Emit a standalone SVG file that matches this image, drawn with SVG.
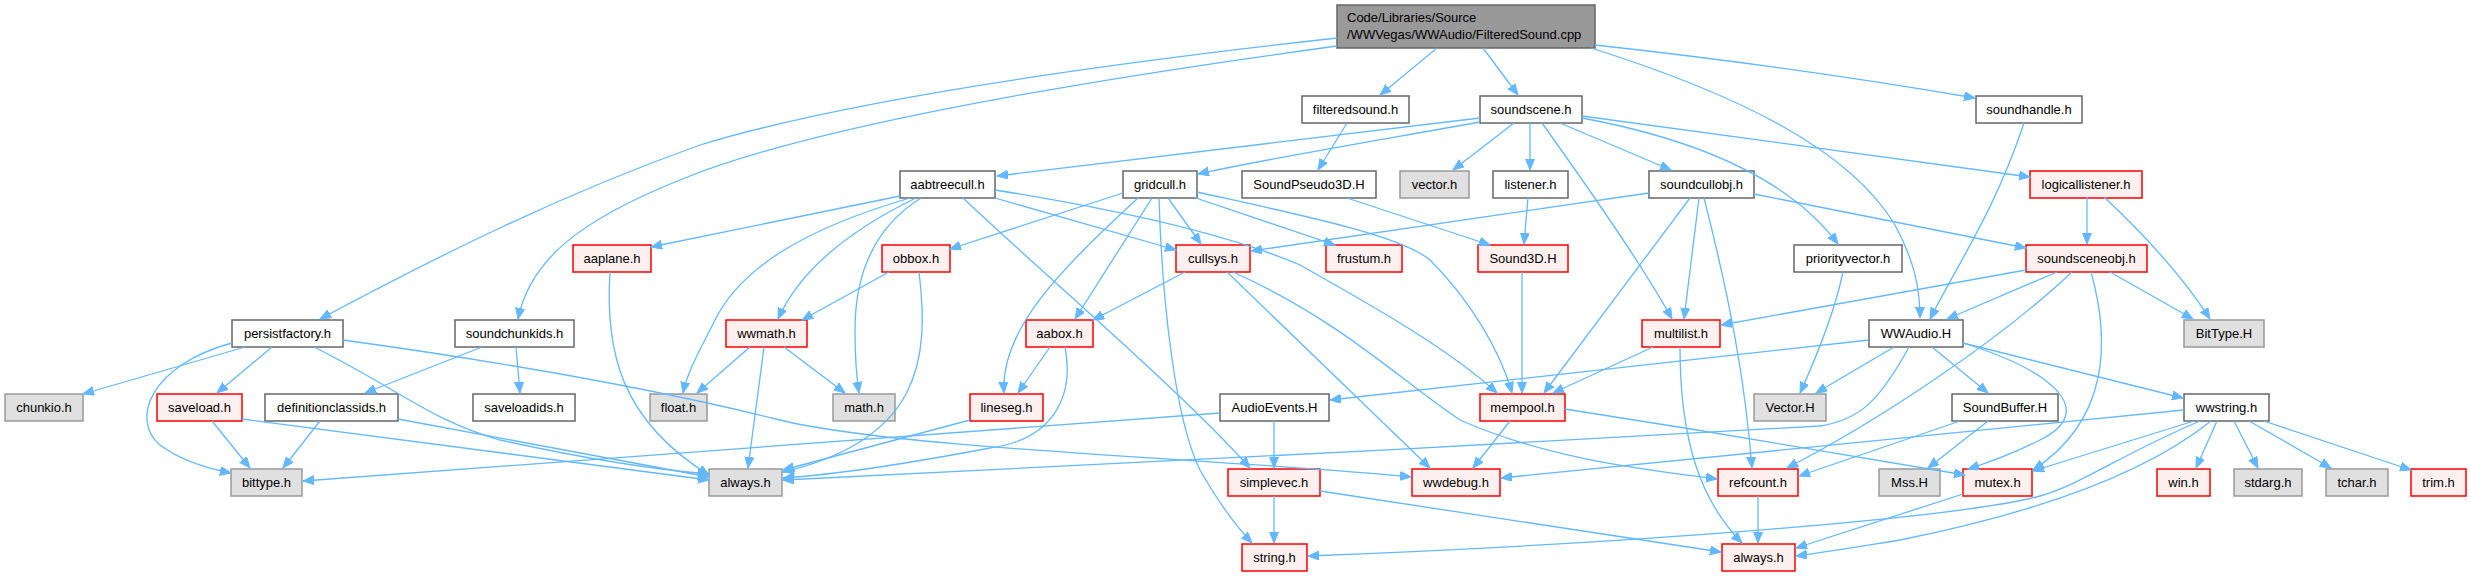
<svg xmlns="http://www.w3.org/2000/svg" width="2471" height="576" viewBox="0 0 2471 576">
<style>
.n rect{stroke-width:1.5}
.w rect{fill:#ffffff;stroke:#666666}
.g rect{fill:#e0e0e0;stroke:#999999}
.r rect{fill:#fff0f0;stroke:#ff0000}
.t rect{fill:#999999;stroke:#666666}
.n text{font-family:"Liberation Sans",Arial,sans-serif;font-size:13px;fill:#000000;text-anchor:middle}
.t text{text-anchor:start}
#edges path{fill:none;stroke:#63b8ff;stroke-width:1.3;marker-end:url(#ah)}
</style>
<defs>
<marker id="ah" markerUnits="userSpaceOnUse" markerWidth="12" markerHeight="10" refX="11" refY="4.5" orient="auto">
<path d="M0,0 L11,4.5 L0,9 z" fill="#63b8ff" stroke="#63b8ff" stroke-width="1"/>
</marker>
</defs>
<rect x="0" y="0" width="2471" height="576" fill="#ffffff"/>
<g id="nodes">
<g id="n_top" class="n t"><rect x="1337" y="5" width="258" height="43"/><text x="1347" y="22">Code/Libraries/Source</text><text x="1347" y="39">/WWVegas/WWAudio/FilteredSound.cpp</text></g>
<g id="n_filteredsound" class="n w"><rect x="1302" y="96" width="107" height="27"/><text x="1355.5" y="114">filteredsound.h</text></g>
<g id="n_soundscene" class="n w"><rect x="1480" y="96" width="102" height="27"/><text x="1531" y="114">soundscene.h</text></g>
<g id="n_soundhandle" class="n w"><rect x="1976" y="96" width="106" height="27"/><text x="2029" y="114">soundhandle.h</text></g>
<g id="n_aabtreecull" class="n w"><rect x="900" y="171" width="95" height="27"/><text x="947.5" y="189">aabtreecull.h</text></g>
<g id="n_gridcull" class="n w"><rect x="1123" y="171" width="74" height="27"/><text x="1160" y="189">gridcull.h</text></g>
<g id="n_soundpseudo3d" class="n w"><rect x="1242" y="171" width="134" height="27"/><text x="1309" y="189">SoundPseudo3D.H</text></g>
<g id="n_vector" class="n g"><rect x="1400" y="171" width="69" height="27"/><text x="1434.5" y="189">vector.h</text></g>
<g id="n_listener" class="n w"><rect x="1493" y="171" width="75" height="27"/><text x="1530.5" y="189">listener.h</text></g>
<g id="n_soundcullobj" class="n w"><rect x="1649" y="171" width="105" height="27"/><text x="1701.5" y="189">soundcullobj.h</text></g>
<g id="n_logicallistener" class="n r"><rect x="2030" y="171" width="112" height="27"/><text x="2086" y="189">logicallistener.h</text></g>
<g id="n_aaplane" class="n r"><rect x="573" y="245" width="78" height="27"/><text x="612" y="263">aaplane.h</text></g>
<g id="n_obbox" class="n r"><rect x="882" y="245" width="68" height="27"/><text x="916" y="263">obbox.h</text></g>
<g id="n_cullsys" class="n r"><rect x="1176" y="245" width="74" height="27"/><text x="1213" y="263">cullsys.h</text></g>
<g id="n_frustum" class="n r"><rect x="1326" y="245" width="76" height="27"/><text x="1364" y="263">frustum.h</text></g>
<g id="n_sound3d" class="n r"><rect x="1478" y="245" width="90" height="27"/><text x="1523" y="263">Sound3D.H</text></g>
<g id="n_priorityvector" class="n w"><rect x="1794" y="245" width="108" height="27"/><text x="1848" y="263">priorityvector.h</text></g>
<g id="n_soundsceneobj" class="n r"><rect x="2026" y="245" width="121" height="27"/><text x="2086.5" y="263">soundsceneobj.h</text></g>
<g id="n_persistfactory" class="n w"><rect x="232" y="320" width="111" height="27"/><text x="287.5" y="338">persistfactory.h</text></g>
<g id="n_soundchunkids" class="n w"><rect x="455" y="320" width="119" height="27"/><text x="514.5" y="338">soundchunkids.h</text></g>
<g id="n_wwmath" class="n r"><rect x="726" y="320" width="81" height="27"/><text x="766.5" y="338">wwmath.h</text></g>
<g id="n_aabox" class="n r"><rect x="1026" y="320" width="67" height="27"/><text x="1059.5" y="338">aabox.h</text></g>
<g id="n_multilist" class="n r"><rect x="1642" y="320" width="78" height="27"/><text x="1681" y="338">multilist.h</text></g>
<g id="n_wwaudio" class="n w"><rect x="1869" y="320" width="94" height="27"/><text x="1916" y="338">WWAudio.H</text></g>
<g id="n_bittype_u" class="n g"><rect x="2184" y="320" width="80" height="27"/><text x="2224" y="338">BitType.H</text></g>
<g id="n_chunkio" class="n g"><rect x="5" y="394" width="78" height="27"/><text x="44" y="412">chunkio.h</text></g>
<g id="n_saveload" class="n r"><rect x="157" y="394" width="85" height="27"/><text x="199.5" y="412">saveload.h</text></g>
<g id="n_definitionclassids" class="n w"><rect x="265" y="394" width="133" height="27"/><text x="331.5" y="412">definitionclassids.h</text></g>
<g id="n_saveloadids" class="n w"><rect x="473" y="394" width="102" height="27"/><text x="524" y="412">saveloadids.h</text></g>
<g id="n_float" class="n g"><rect x="650" y="394" width="57" height="27"/><text x="678.5" y="412">float.h</text></g>
<g id="n_math" class="n g"><rect x="833" y="394" width="62" height="27"/><text x="864" y="412">math.h</text></g>
<g id="n_lineseg" class="n r"><rect x="970" y="394" width="73" height="27"/><text x="1006.5" y="412">lineseg.h</text></g>
<g id="n_audioevents" class="n w"><rect x="1220" y="394" width="109" height="27"/><text x="1274.5" y="412">AudioEvents.H</text></g>
<g id="n_mempool" class="n r"><rect x="1480" y="394" width="85" height="27"/><text x="1522.5" y="412">mempool.h</text></g>
<g id="n_vector_u" class="n g"><rect x="1754" y="394" width="72" height="27"/><text x="1790" y="412">Vector.H</text></g>
<g id="n_soundbuffer" class="n w"><rect x="1952" y="394" width="106" height="27"/><text x="2005" y="412">SoundBuffer.H</text></g>
<g id="n_wwstring" class="n w"><rect x="2184" y="394" width="85" height="27"/><text x="2226.5" y="412">wwstring.h</text></g>
<g id="n_bittype" class="n g"><rect x="231" y="469" width="71" height="27"/><text x="266.5" y="487">bittype.h</text></g>
<g id="n_always_g" class="n g"><rect x="709" y="469" width="73" height="27"/><text x="745.5" y="487">always.h</text></g>
<g id="n_simplevec" class="n r"><rect x="1228" y="469" width="92" height="27"/><text x="1274" y="487">simplevec.h</text></g>
<g id="n_wwdebug" class="n r"><rect x="1412" y="469" width="88" height="27"/><text x="1456" y="487">wwdebug.h</text></g>
<g id="n_refcount" class="n r"><rect x="1718" y="469" width="80" height="27"/><text x="1758" y="487">refcount.h</text></g>
<g id="n_mss" class="n g"><rect x="1879" y="469" width="61" height="27"/><text x="1909.5" y="487">Mss.H</text></g>
<g id="n_mutex" class="n r"><rect x="1963" y="469" width="69" height="27"/><text x="1997.5" y="487">mutex.h</text></g>
<g id="n_win" class="n r"><rect x="2157" y="469" width="53" height="27"/><text x="2183.5" y="487">win.h</text></g>
<g id="n_stdarg" class="n g"><rect x="2234" y="469" width="68" height="27"/><text x="2268" y="487">stdarg.h</text></g>
<g id="n_tchar" class="n g"><rect x="2326" y="469" width="62" height="27"/><text x="2357" y="487">tchar.h</text></g>
<g id="n_trim" class="n r"><rect x="2411" y="469" width="55" height="27"/><text x="2438.5" y="487">trim.h</text></g>
<g id="n_string" class="n r"><rect x="1242" y="544" width="65" height="27"/><text x="1274.5" y="562">string.h</text></g>
<g id="n_always_r" class="n r"><rect x="1722" y="544" width="73" height="27"/><text x="1758.5" y="562">always.h</text></g>
</g>
<g id="edges">
<path d="M1437,48 L1380,95"/>
<path d="M1483,48 L1518,95"/>
<path d="M1595,45 C1750,62 1870,80 1975,98"/>
<path d="M1591,48 C1740,95 1850,150 1895,225 C1915,262 1920,290 1920,318"/>
<path d="M1337,38 C1050,70 830,105 700,145 C560,195 440,255 320,319"/>
<path d="M1337,46 C1050,85 800,130 680,180 C580,220 530,260 518,319"/>
<path d="M1347,123 L1318,170"/>
<path d="M1347,198 L1490,245"/>
<path d="M1480,118 L997,176"/>
<path d="M1480,122 C1380,140 1260,160 1198,174"/>
<path d="M1514,123 L1453,170"/>
<path d="M1530,123 L1530,170"/>
<path d="M1560,123 L1671,170"/>
<path d="M1542,123 Q1640,260 1672,319"/>
<path d="M1582,118 C1700,140 1790,180 1838,244"/>
<path d="M1582,116 L2030,177"/>
<path d="M2024,123 C1995,210 1960,260 1930,319"/>
<path d="M1528,197 L1524,244"/>
<path d="M1522,272 L1522,393"/>
<path d="M2087,197 L2087,244"/>
<path d="M2104,197 C2150,240 2185,280 2210,319"/>
<path d="M1649,193 L1251,251"/>
<path d="M1690,198 L1544,393"/>
<path d="M1699,198 L1684,319"/>
<path d="M1704,198 C1730,300 1745,380 1752,468"/>
<path d="M1754,194 L2026,248"/>
<path d="M2026,270 L1721,325"/>
<path d="M2057,272 L1947,319"/>
<path d="M2072,272 C2000,340 1880,420 1787,468"/>
<path d="M2091,272 C2110,340 2110,420 2033,470"/>
<path d="M2110,272 L2193,319"/>
<path d="M1843,272 C1835,310 1815,360 1800,393"/>
<path d="M900,196 L651,247"/>
<path d="M910,198 C800,230 740,270 715,320 C700,350 688,370 683,393"/>
<path d="M916,198 C850,230 800,270 778,319"/>
<path d="M921,198 C870,230 855,280 855,330 C855,360 857,380 859,393"/>
<path d="M963,198 C1050,280 1180,390 1250,468"/>
<path d="M995,190 C1120,210 1230,235 1300,265 C1380,310 1450,350 1497,393"/>
<path d="M995,198 L1176,250"/>
<path d="M1123,193 L950,249"/>
<path d="M1138,198 C1060,270 1000,330 1004,393"/>
<path d="M1152,198 L1075,319"/>
<path d="M1159,198 C1162,300 1175,420 1200,470 C1220,505 1235,525 1252,543"/>
<path d="M1168,198 L1201,244"/>
<path d="M1193,197 L1335,245"/>
<path d="M1197,192 C1300,215 1400,235 1430,260 C1470,300 1500,350 1512,393"/>
<path d="M1185,272 L1093,320"/>
<path d="M1227,272 L1430,468"/>
<path d="M1233,272 C1340,320 1400,380 1460,420 C1550,460 1650,470 1717,479"/>
<path d="M610,272 C605,350 620,420 709,475"/>
<path d="M889,272 L802,320"/>
<path d="M919,272 C930,360 920,440 783,472"/>
<path d="M750,347 L697,393"/>
<path d="M764,347 L748,468"/>
<path d="M784,347 L845,393"/>
<path d="M1050,347 L1018,393"/>
<path d="M1065,347 C1075,400 1050,440 990,448 C900,465 830,475 783,478"/>
<path d="M970,420 L783,470"/>
<path d="M245,347 L83,394"/>
<path d="M272,347 L217,393"/>
<path d="M232,343 C150,365 130,420 160,445 C180,460 205,468 231,473"/>
<path d="M314,347 C400,390 430,420 500,440 C600,462 660,470 709,474"/>
<path d="M343,340 C560,370 700,400 780,420 C900,450 1250,460 1411,477"/>
<path d="M482,347 L365,393"/>
<path d="M516,347 L520,393"/>
<path d="M212,421 L250,468"/>
<path d="M242,419 L709,480"/>
<path d="M320,421 L283,468"/>
<path d="M398,419 L709,477"/>
<path d="M1653,347 L1553,393"/>
<path d="M1680,347 C1680,440 1700,500 1742,543"/>
<path d="M1869,340 L1330,400"/>
<path d="M1894,347 L1816,393"/>
<path d="M1909,347 C1880,400 1860,420 1820,426 C1500,445 1000,470 783,480"/>
<path d="M1932,347 L1988,393"/>
<path d="M1963,343 L2183,398"/>
<path d="M1963,343 C2050,370 2100,410 2040,440 C2010,455 1990,462 1968,469"/>
<path d="M1220,413 L303,481"/>
<path d="M1274,421 L1274,468"/>
<path d="M1510,421 L1473,468"/>
<path d="M1565,409 C1700,430 1850,455 1965,475"/>
<path d="M1960,421 L1799,476"/>
<path d="M1988,421 L1928,468"/>
<path d="M2184,410 L1501,478"/>
<path d="M2194,421 L2033,471"/>
<path d="M2217,421 L2196,468"/>
<path d="M2234,421 L2258,468"/>
<path d="M2249,421 L2331,468"/>
<path d="M2264,421 L2411,470"/>
<path d="M2200,421 C2120,455 2080,485 2040,496 C1950,520 1600,545 1308,556"/>
<path d="M2211,421 C2150,470 2050,510 1900,540 C1850,548 1820,553 1796,556"/>
<path d="M1274,496 L1274,543"/>
<path d="M1320,491 L1721,552"/>
<path d="M1758,496 L1758,543"/>
<path d="M1963,494 L1796,548"/>
</g>
</svg>
